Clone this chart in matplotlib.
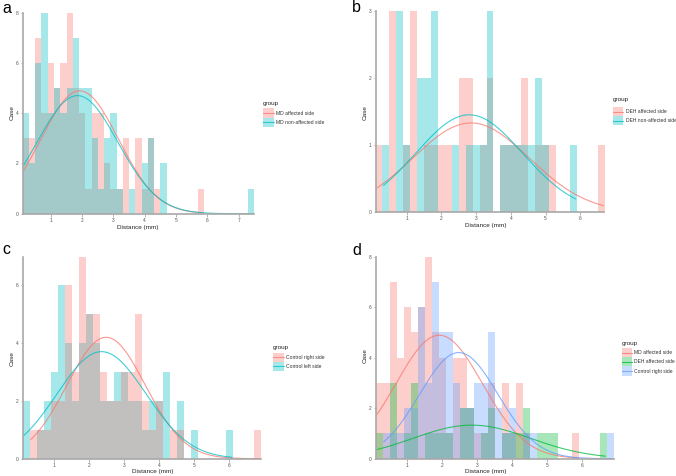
import numpy as np
import matplotlib
matplotlib.use("Agg")
import matplotlib.pyplot as plt
from matplotlib.patches import Rectangle
from matplotlib.lines import Line2D

plt.rcParams['font.family'] = ['Liberation Sans', 'DejaVu Sans']

# ---------------- data (bin counts, bins of width 0.2 starting at 0.1 mm) ----------------
BIN_START = 0.1
BIN_WIDTH = 0.2

md_affected = [3, 3, 7, 4, 6, 5, 6, 8, 5, 4, 1, 4, 4, 2, 1, 1, 3, 0, 3, 1, 3, 1, 0,
               0, 0, 0, 0, 0, 1]
md_non_affected = [4, 2, 6, 8, 4, 5, 4, 5, 7, 5, 5, 3, 1, 3, 4, 1, 0, 1, 0, 2, 3, 0, 2,
                   0, 0, 0, 0, 0, 0, 0, 0, 0, 0, 0, 0, 0, 1]
deh_affected = [1, 0, 3, 0, 1, 3, 0, 1, 1, 1, 1, 0, 2, 2, 0, 1, 2, 0, 1, 1, 1, 2, 0,
                1, 1, 1, 0, 0, 0, 0, 0, 0, 1]
deh_non_affected = [0, 1, 0, 3, 1, 0, 2, 2, 3, 0, 0, 1, 0, 1, 1, 1, 3, 0, 1, 1, 1, 1, 1,
                    2, 1, 0, 0, 0, 1]
control_right = [0, 1, 1, 1, 2, 2, 6, 3, 7, 5, 5, 3, 2, 2, 3, 3, 5, 2, 1, 2, 0, 1, 1,
                 0, 0, 0, 0, 0, 0, 0, 0, 0, 0, 1]
control_left = [2, 0, 1, 2, 3, 6, 4, 2, 4, 5, 4, 2, 2, 3, 3, 2, 2, 1, 2, 2, 3, 0, 2,
                0, 1, 0, 0, 0, 0, 1]

# fitted normal curve parameters (mean, sd) in mm
curve_md_affected = (1.92, 1.24)
curve_md_non_affected = (1.85, 1.29)
curve_deh_affected = (2.85, 1.68)
curve_deh_non_affected = (2.80, 1.54)
curve_control_right = (2.48, 1.12)
curve_control_left = (2.35, 1.27)

labels_a = ["MD affected side", "MD non-affected side"]
labels_b = ["DEH affected side", "DEH non-affected side"]
labels_c = ["Control right side", "Control left side"]
labels_d = ["MD affected side", "DEH affected side", "Control right side"]

PINK = "#F8766D"
TEAL = "#00BFC4"
GREEN = "#00BA38"
BLUE = "#619CFF"
ALPHA = 0.35

W, H = 676, 476
fig = plt.figure(figsize=(W / 100, H / 100), dpi=100)
fig.patch.set_facecolor("white")


def px_axes(x0, x1, ytop, ybot):
    return fig.add_axes([x0 / W, 1 - ybot / H, (x1 - x0) / W, (ybot - ytop) / H])


def ftext(x, y, s, **kw):
    fig.text(x / W, 1 - y / H, s, **kw)


def draw_hist(ax, counts, color):
    counts = np.asarray(counts)
    lefts = BIN_START + BIN_WIDTH * np.arange(len(counts))
    m = counts > 0
    ax.bar(lefts[m], counts[m], width=BIN_WIDTH, align="edge", color=color,
           alpha=ALPHA, linewidth=0)


def draw_curve(ax, counts, params, color):
    counts = np.asarray(counts)
    nz = np.nonzero(counts)[0]
    lo = BIN_START + BIN_WIDTH * nz[0] + 0.03
    hi = BIN_START + BIN_WIDTH * (nz[-1] + 1) - 0.03
    mu, sd = params
    n = counts.sum()
    x = np.linspace(lo, hi, 300)
    y = n * BIN_WIDTH * np.exp(-0.5 * ((x - mu) / sd) ** 2) / (sd * np.sqrt(2 * np.pi))
    ax.plot(x, y, color=color, lw=0.8, alpha=0.75, solid_capstyle="round")


def style(ax, xlim, ylim, xticks, yticks):
    ax.set_xlim(*xlim)
    ax.set_ylim(*ylim)
    ax.set_xticks(xticks)
    ax.set_yticks(yticks)
    for s in ["top", "right"]:
        ax.spines[s].set_visible(False)
    for s in ["left", "bottom"]:
        ax.spines[s].set_color("#a8a8a8")
        ax.spines[s].set_linewidth(1.2)
    ax.tick_params(length=1.8, width=0.6, color="#a8a8a8", labelsize=3.5,
                   labelcolor="#555555", pad=1.2)
    ax.set_facecolor("white")


def legend(x, ytitle, ytop, labels, colors, step=9.2):
    ftext(x, ytitle, "group", fontsize=4.6, color="#222222", va="center", ha="left")
    for i, (lab, col) in enumerate(zip(labels, colors)):
        y0 = ytop + i * step
        r = Rectangle((x / W, 1 - (y0 + step) / H), 10.5 / W, step / H,
                      transform=fig.transFigure, facecolor=col, alpha=ALPHA,
                      edgecolor="none")
        fig.add_artist(r)
        ym = 1 - (y0 + step / 2) / H
        fig.add_artist(Line2D([x / W, (x + 10.5) / W], [ym, ym], transform=fig.transFigure,
                              color=col, lw=0.8, alpha=0.75))
        ftext(x + 13, y0 + step / 2, lab, fontsize=3.6, color="#333333",
              va="center", ha="left")


def axis_titles(xc, yx, caseX, caseY):
    ftext(xc, yx, "Distance (mm)", fontsize=4.6, color="#222222", ha="center", va="center")
    ftext(caseX, caseY, "Case", fontsize=4.6, color="#222222", ha="center", va="center",
          rotation=90)


# ---------------- panel a ----------------
axa = px_axes(22.7, 254.3, 12.7, 213.7)
draw_hist(axa, md_affected, PINK)
draw_hist(axa, md_non_affected, TEAL)
draw_curve(axa, md_affected, curve_md_affected, PINK)
draw_curve(axa, md_non_affected, curve_md_non_affected, TEAL)
style(axa, (0.1, 7.5), (0, 8), range(1, 8), [0, 2, 4, 6, 8])
axis_titles(138, 227.5, 12.5, 113)
legend(263, 103.5, 108.5, labels_a, [PINK, TEAL])

# ---------------- panel b ----------------
axb = px_axes(375.5, 604.5, 10.7, 212.3)
draw_hist(axb, deh_affected, PINK)
draw_hist(axb, deh_non_affected, TEAL)
draw_curve(axb, deh_affected, curve_deh_affected, PINK)
draw_curve(axb, deh_non_affected, curve_deh_non_affected, TEAL)
style(axb, (0.1, 6.7), (0, 3), range(1, 7), [0, 1, 2, 3])
axis_titles(486, 225, 365, 113)
legend(612.5, 99.5, 107, labels_b, [PINK, TEAL])

# ---------------- panel c ----------------
axc = px_axes(22.8, 260.8, 256.5, 458.7)
draw_hist(axc, control_left, TEAL)
draw_hist(axc, control_right, PINK)
draw_curve(axc, control_right, curve_control_right, PINK)
draw_curve(axc, control_left, curve_control_left, TEAL)
style(axc, (0.1, 6.9), (0, 7), range(1, 7), [0, 2, 4, 6])
axis_titles(153, 471.5, 12.5, 359)
legend(273, 347, 352.5, labels_c, [PINK, TEAL])

# ---------------- panel d ----------------
axd = px_axes(375.5, 613.5, 256.7, 458.7)
draw_hist(axd, md_affected, PINK)
draw_hist(axd, deh_affected, GREEN)
draw_hist(axd, control_right, BLUE)
draw_curve(axd, md_affected, curve_md_affected, PINK)
draw_curve(axd, deh_affected, curve_deh_affected, GREEN)
draw_curve(axd, control_right, curve_control_right, BLUE)
style(axd, (0.1, 6.9), (0, 8), range(1, 7), [0, 2, 4, 6, 8])
axis_titles(486, 471.5, 365.3, 356)
legend(621.5, 343.3, 348, labels_d, [PINK, GREEN, BLUE], step=9.2)

# panel letters
for lx, ly, s in [(2, 12.7, "a"), (352, 11.7, "b"), (2, 254.3, "c"), (352, 255.3, "d")]:
    ftext(lx, ly, s, fontsize=11.5, color="black", ha="left", va="baseline")

fig.savefig("out.png", dpi=100, facecolor="white")
